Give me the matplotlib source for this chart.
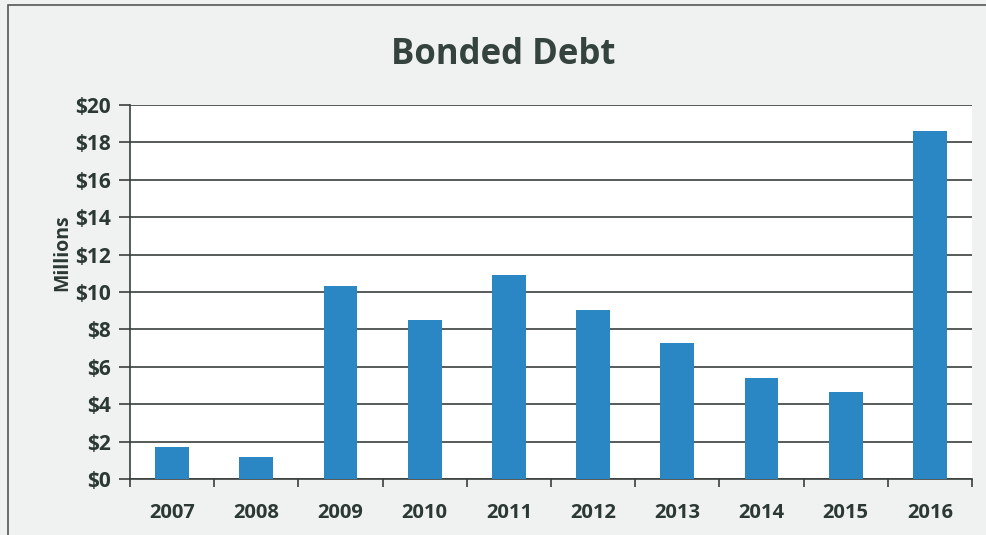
import matplotlib
matplotlib.use("Agg")
import matplotlib.pyplot as plt
from matplotlib.patches import Rectangle

years = ["2007", "2008", "2009", "2010", "2011", "2012", "2013", "2014", "2015", "2016"]
debt_millions = [1.7, 1.2, 10.3, 8.5, 10.9, 9.05, 7.25, 5.4, 4.65, 18.6]
y_ticks = [0, 2, 4, 6, 8, 10, 12, 14, 16, 18, 20]
y_labels = ["$" + str(v) for v in y_ticks]

text_color = "#2c3833"
bar_color = "#2a87c3"
grid_color = "#3a3f3d"

plt.rcParams['font.family'] = ['Open Sans', 'DejaVu Sans']

fig = plt.figure(figsize=(9.86, 5.35), dpi=100)
fig.patch.set_facecolor("#eff2f0")
fig.patches.append(Rectangle((0.008, -0.05), 1.2, 1.04, transform=fig.transFigure,
                             fill=False, edgecolor="#555555", linewidth=1.2))

ax = fig.add_axes([0.1318, 0.1047, 0.854, 0.699])
ax.set_facecolor("white")

x = list(range(len(years)))
ax.bar(x, debt_millions, width=0.4, color=bar_color, zorder=3)

ax.set_xlim(-0.5, len(years) - 0.5)
ax.set_ylim(0, 20)
ax.set_yticks(y_ticks)
ax.set_yticklabels(y_labels)
ax.set_xticks(x)
ax.set_xticklabels(years)
ax.set_xticks([i - 0.5 for i in range(len(years) + 1)], minor=True)
ax.tick_params(axis="x", which="major", length=0, pad=17)
ax.tick_params(axis="x", which="minor", length=6, width=1.2, color=grid_color, direction="out")
ax.tick_params(axis="y", length=8, width=1.2, color=grid_color, pad=6)
for lab in ax.get_xticklabels():
    lab.set_fontsize(14.5)
    lab.set_fontweight("bold")
    lab.set_color(text_color)
for lab in ax.get_yticklabels():
    lab.set_fontsize(15)
    lab.set_fontweight("bold")
    lab.set_color(text_color)

ax.yaxis.grid(True, color=grid_color, linewidth=1.2, zorder=0)
ax.set_axisbelow(True)
for s in ["top", "right"]:
    ax.spines[s].set_visible(False)
ax.spines["left"].set_color(grid_color)
ax.spines["left"].set_linewidth(1.2)
ax.spines["bottom"].set_color(grid_color)
ax.spines["bottom"].set_linewidth(1.2)

ax.set_ylabel("Millions", fontsize=14, fontweight="bold", color=text_color, labelpad=2)
ax.yaxis.set_label_coords(-0.068, 0.605)
fig.text(0.51, 0.897, "Bonded Debt", ha="center", va="center", fontsize=25,
         fontweight="bold", color="#34433e")

fig.savefig("out.png", dpi=100, facecolor=fig.get_facecolor())
